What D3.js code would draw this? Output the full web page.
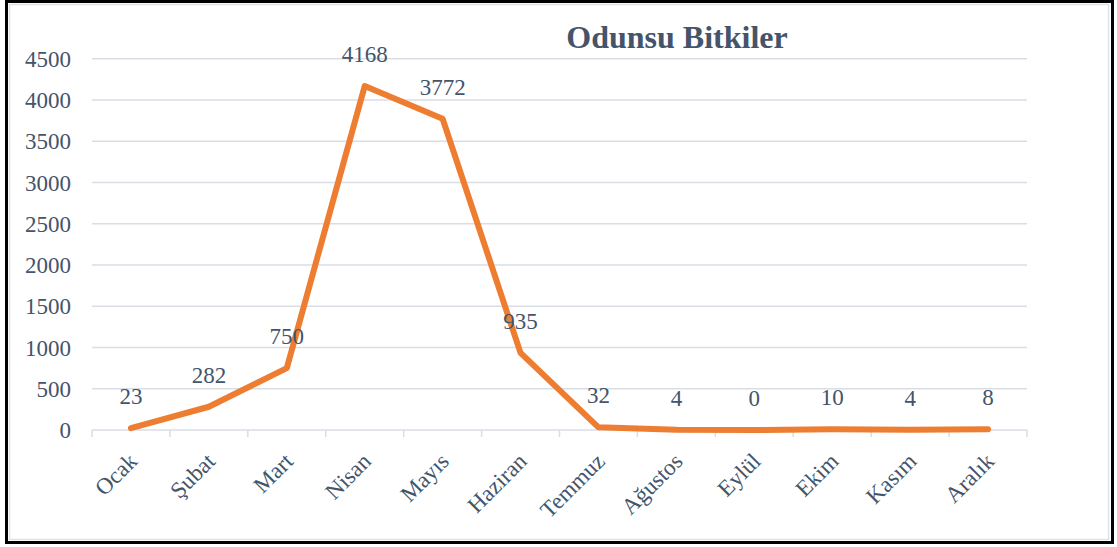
<!DOCTYPE html>
<html>
<head>
<meta charset="utf-8">
<script src="https://cdn.jsdelivr.net/npm/d3@7"></script>
<style>
  body { margin: 0; background: #fff; }
</style>
</head>
<body>
<div id="chart"></div>
<script>
const months = ["Ocak", "Şubat", "Mart", "Nisan", "Mayıs", "Haziran", "Temmuz", "Ağustos", "Eylül", "Ekim", "Kasım", "Aralık"];
const counts = [23, 282, 750, 4168, 3772, 935, 32, 4, 0, 10, 4, 8];
const yTicks = [0, 500, 1000, 1500, 2000, 2500, 3000, 3500, 4000, 4500];
const title = "Odunsu Bitkiler";

const width = 1117;
const height = 547;
const font = "Liberation Serif";
const textColor = "#44546a";
const lineColor = "#ed7d31";
const gridColor = "#d9dde4";

const svg = d3.select("#chart")
    .append("svg")
    .attr("width", width)
    .attr("height", height)
    .attr("font-family", font);

// outer frame
svg.append("rect")
    .attr("x", 6.5).attr("y", 1.5)
    .attr("width", 1106).attr("height", 541)
    .attr("fill", "#fff")
    .attr("stroke", "#000")
    .attr("stroke-width", 3);
svg.append("rect")
    .attr("x", 9.5).attr("y", 4.5)
    .attr("width", 1099).attr("height", 535)
    .attr("fill", "none")
    .attr("stroke", "#dfe3e8")
    .attr("stroke-width", 1.5);

const x = d3.scaleBand()
    .domain(months)
    .range([92, 1027]);

const y = d3.scaleLinear()
    .domain([0, 4500])
    .range([430, 58.7]);

// gridlines
svg.append("g")
    .selectAll("line")
    .data(yTicks)
    .enter()
    .append("line")
    .attr("x1", 92)
    .attr("x2", 1027)
    .attr("y1", d => y(d))
    .attr("y2", d => y(d))
    .attr("stroke", gridColor)
    .attr("stroke-width", 1.5);

// y labels
svg.append("g")
    .selectAll("text")
    .data(yTicks)
    .enter()
    .append("text")
    .attr("x", 71)
    .attr("y", d => y(d))
    .attr("dy", "0.35em")
    .attr("text-anchor", "end")
    .attr("font-family", font)
    .attr("font-size", 23)
    .attr("fill", textColor)
    .text(d => d);

// x axis ticks
const tickPos = months.map(m => x(m)).concat([x.range()[1]]);
svg.append("g")
    .selectAll("line")
    .data(tickPos)
    .enter()
    .append("line")
    .attr("x1", d => d)
    .attr("x2", d => d)
    .attr("y1", 430)
    .attr("y2", 437)
    .attr("stroke", gridColor)
    .attr("stroke-width", 1.5);

// x labels
svg.append("g")
    .selectAll("text")
    .data(months)
    .enter()
    .append("text")
    .attr("transform", d => `translate(${x(d) + x.bandwidth() / 2 + 2},${457}) rotate(-45)`)
    .attr("text-anchor", "end")
    .attr("dy", "0.35em")
    .attr("font-family", font)
    .attr("font-size", 23)
    .attr("fill", textColor)
    .text(d => d);

// line
const line = d3.line()
    .x((d, i) => x(months[i]) + x.bandwidth() / 2)
    .y(d => y(d));

svg.append("path")
    .datum(counts)
    .attr("d", line)
    .attr("fill", "none")
    .attr("stroke", lineColor)
    .attr("stroke-width", 6)
    .attr("stroke-linejoin", "round")
    .attr("stroke-linecap", "round");

// data labels
svg.append("g")
    .selectAll("text")
    .data(counts)
    .enter()
    .append("text")
    .attr("x", (d, i) => x(months[i]) + x.bandwidth() / 2)
    .attr("y", d => y(d) - 24)
    .attr("text-anchor", "middle")
    .attr("font-family", font)
    .attr("font-size", 23)
    .attr("fill", textColor)
    .text(d => d);

// title
svg.append("text")
    .attr("x", 677)
    .attr("y", 48)
    .attr("text-anchor", "middle")
    .attr("font-family", font)
    .attr("font-size", 32)
    .attr("font-weight", "bold")
    .attr("fill", textColor)
    .text(title);
</script>
</body>
</html>
